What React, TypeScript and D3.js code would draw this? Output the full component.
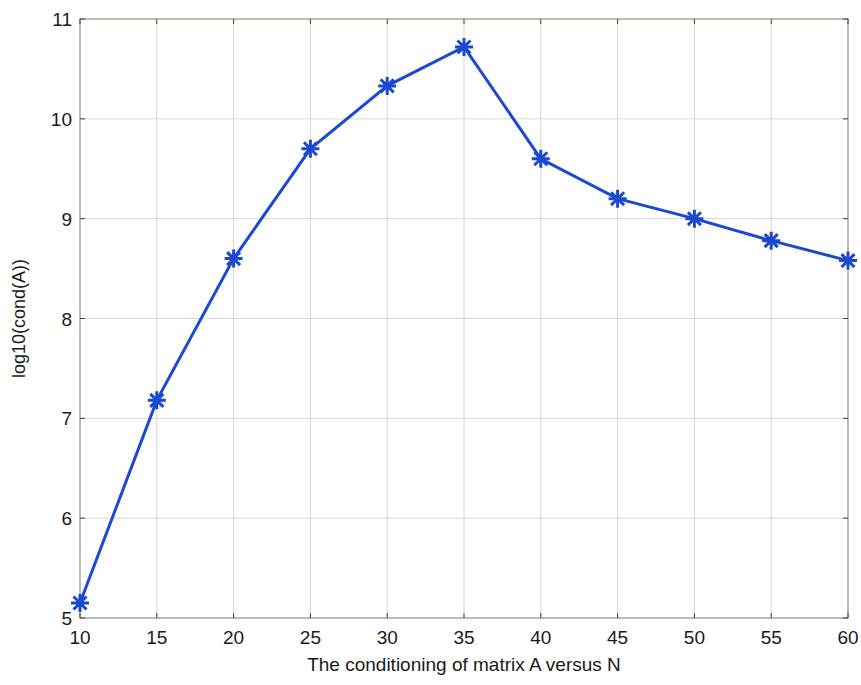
import React from 'react'
import * as d3 from 'd3'

// matrix size N and log10 of condition number
const N_VALUES = [10, 15, 20, 25, 30, 35, 40, 45, 50, 55, 60]
const LOG_COND = [5.15, 7.18, 8.6, 9.7, 10.33, 10.72, 9.6, 9.2, 9.0, 8.78, 8.58]
const X_TICKS = [10, 15, 20, 25, 30, 35, 40, 45, 50, 55, 60]
const Y_TICKS = [5, 6, 7, 8, 9, 10, 11]

const W = 861
const H = 685
const margin = { top: 19, right: 13, bottom: 67, left: 80 }

const BLUE = '#1c49cf'
const FONT = 'Liberation Sans, Arial, sans-serif'

export default function App() {
  const x = d3.scaleLinear().domain([10, 60]).range([margin.left, W - margin.right])
  const y = d3.scaleLinear().domain([5, 11]).range([H - margin.bottom, margin.top])

  const points = N_VALUES.map((n, i) => [x(n), y(LOG_COND[i])] as [number, number])
  const line = d3.line()(points) || ''

  const r = 9
  const d = r * 0.72
  const star = `M0,${-r}V${r}M${-r},0H${r}M${-d},${-d}L${d},${d}M${-d},${d}L${d},${-d}`

  const left = x.range()[0], right = x.range()[1]
  const top = y.range()[1], bottom = y.range()[0]

  return (
    <svg width={W} height={H} style={{ position: 'absolute', left: 0, top: 0, background: '#fff' }}>
      {/* grid */}
      <g stroke="#d8d8cc" strokeWidth={1}>
        {X_TICKS.map(t => <line key={'gx' + t} x1={x(t)} x2={x(t)} y1={top} y2={bottom} />)}
        {Y_TICKS.map(t => <line key={'gy' + t} x1={left} x2={right} y1={y(t)} y2={y(t)} />)}
      </g>
      {/* frame */}
      <rect x={left} y={top} width={right - left} height={bottom - top} fill="none" stroke="#8c8f78" strokeWidth={1} />
      {/* inner ticks */}
      <g stroke="#444" strokeWidth={1}>
        {X_TICKS.map(t => (
          <g key={'tx' + t}>
            <line x1={x(t)} x2={x(t)} y1={bottom} y2={bottom - 5} />
            <line x1={x(t)} x2={x(t)} y1={top} y2={top + 5} />
          </g>
        ))}
        {Y_TICKS.map(t => (
          <g key={'ty' + t}>
            <line x1={left} x2={left + 5} y1={y(t)} y2={y(t)} />
            <line x1={right} x2={right - 5} y1={y(t)} y2={y(t)} />
          </g>
        ))}
      </g>
      {/* tick labels */}
      <g fontFamily={FONT} fontSize={19} fill="#1a1a1a">
        {X_TICKS.map(t => (
          <text key={'lx' + t} x={x(t)} y={bottom + 26} textAnchor="middle">{t}</text>
        ))}
        {Y_TICKS.map(t => (
          <text key={'ly' + t} x={left - 8} y={y(t) + 7} textAnchor="end">{t}</text>
        ))}
      </g>
      {/* axis titles */}
      <text x={(left + right) / 2} y={H - 14} textAnchor="middle" fontFamily={FONT} fontSize={19} fill="#1a1a1a">
        The conditioning of matrix A versus N
      </text>
      <text transform={`translate(25,${(top + bottom) / 2}) rotate(-90)`} textAnchor="middle" fontFamily={FONT} fontSize={18} fill="#1a1a1a">
        log10(cond(A))
      </text>
      {/* series */}
      <path d={line} fill="none" stroke={BLUE} strokeWidth={3} />
      <g stroke={BLUE} strokeWidth={3}>
        {points.map((p, i) => (
          <path key={'m' + i} d={star} transform={`translate(${p[0]},${p[1]})`} />
        ))}
      </g>
    </svg>
  )
}
